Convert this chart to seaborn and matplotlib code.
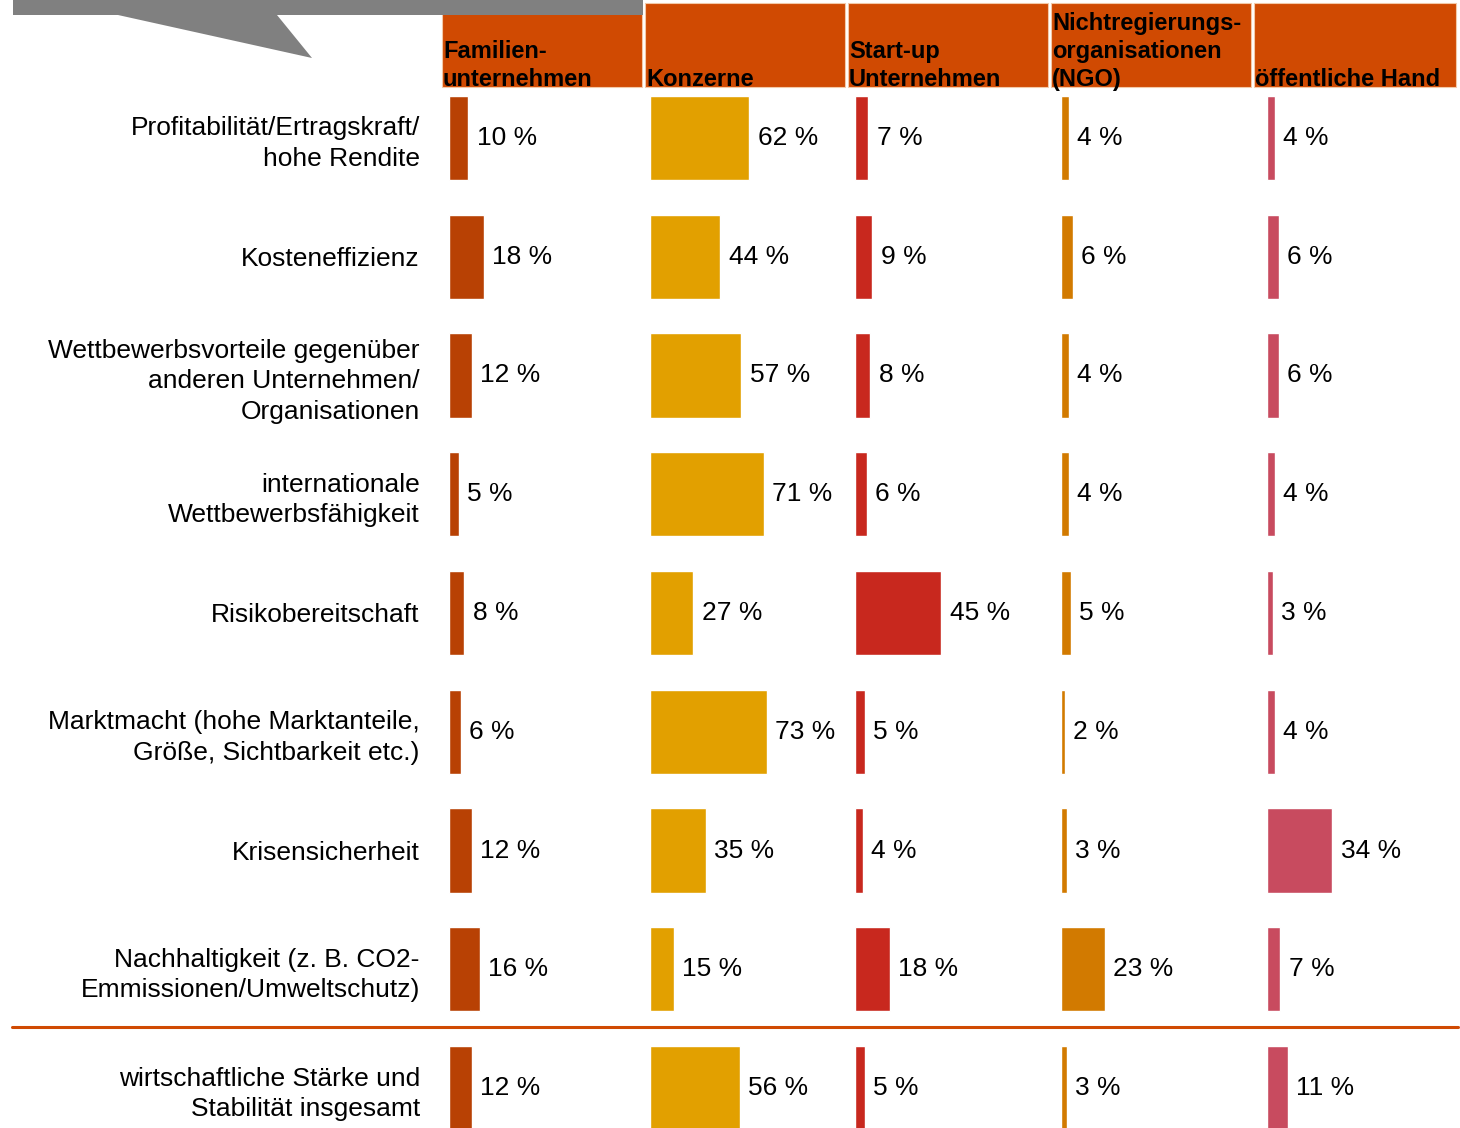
import matplotlib.pyplot as plt
import seaborn as sns
import pandas as pd
from matplotlib.patches import Rectangle, Polygon

categories = [
    "Profitabilität/Ertragskraft/\nhohe Rendite",
    "Kosteneffizienz",
    "Wettbewerbsvorteile gegenüber\nanderen Unternehmen/\nOrganisationen",
    "internationale\nWettbewerbsfähigkeit",
    "Risikobereitschaft",
    "Marktmacht (hohe Marktanteile,\nGröße, Sichtbarkeit etc.)",
    "Krisensicherheit",
    "Nachhaltigkeit (z. B. CO2-\nEmmissionen/Umweltschutz)",
    "wirtschaftliche Stärke und\nStabilität insgesamt",
]
headers = [
    "Familien-\nunternehmen",
    "Konzerne",
    "Start-up\nUnternehmen",
    "Nichtregierungs-\norganisationen\n(NGO)",
    "öffentliche Hand",
]
familien = [10, 18, 12, 5, 8, 6, 12, 16, 12]
konzerne = [62, 44, 57, 71, 27, 73, 35, 15, 56]
startups = [7, 9, 8, 6, 45, 5, 4, 18, 5]
ngo = [4, 6, 4, 4, 5, 2, 3, 23, 3]
oeffentlich = [4, 6, 6, 4, 3, 4, 34, 7, 11]
series = [familien, konzerne, startups, ngo, oeffentlich]
colors = ["#B84104", "#E2A000", "#C8281E", "#D27A00", "#C84B5F"]
header_color = "#D04A02"

W, H = 1460, 1128
sns.set_theme(style="white")
plt.rcParams['font.family'] = ['Liberation Sans', 'DejaVu Sans']
plt.rcParams['text.color'] = 'black'
plt.rcParams['ytick.labelcolor'] = 'black'

fig = plt.figure(figsize=(W / 100, H / 100), dpi=100)

# background layer in pixel coordinates (header boxes, arrow, separator)
bg = fig.add_axes([0, 0, 1, 1])
bg.set_xlim(0, W)
bg.set_ylim(H, 0)
bg.axis('off')

col_left = [442, 645, 848, 1051, 1254]
for i, (x0, txt) in enumerate(zip(col_left, headers)):
    w = 202 if i == 4 else 200
    bg.add_patch(Rectangle((x0, 3), w, 84, facecolor=header_color,
                           edgecolor="#F3C9A8", lw=0.8))
    bg.text(x0 + 1, 91, txt, ha='left', va='bottom', fontsize=17,
            fontweight='bold', color='black', linespacing=1.27)

bg.add_patch(Polygon([(13, 0), (643, 0), (643, 15), (277, 15), (312, 58),
                      (118, 15), (13, 15)], closed=True,
                     facecolor="#808080", edgecolor='none', zorder=5))
bg.plot([12, 1458], [1027, 1027], color=header_color, lw=2.2)

# bar panels
bar_left = [449, 650, 855, 1061, 1267]
px_per_pct = [1.92, 1.6, 1.92, 1.92, 1.92]
row_step = 118.75
top_px = 138 - row_step / 2
bottom_px = top_px + row_step * len(categories)
panel_w = 190

for i, vals in enumerate(series):
    ax = fig.add_axes([bar_left[i] / W, (H - bottom_px) / H,
                       panel_w / W, (bottom_px - top_px) / H])
    ax.patch.set_visible(False)
    df = pd.DataFrame({"kategorie": categories, "wert": vals})
    sns.barplot(data=df, x="wert", y="kategorie", orient='h', color=colors[i],
                saturation=1, width=0.71, ax=ax)
    ax.set_xlim(0, panel_w / px_per_pct[i])
    ax.set_ylim(len(categories) - 0.5, -0.5)
    ax.bar_label(ax.containers[0], labels=[f"{v} %" for v in vals],
                 padding=6, fontsize=19, color='black')
    ax.set_xlabel("")
    ax.set_ylabel("")
    ax.set_xticks([])
    for s in ax.spines.values():
        s.set_visible(False)
    if i == 0:
        ax.tick_params(axis='y', length=0, pad=21, labelsize=19,
                       labelcolor='black')
        for t in ax.get_yticklabels():
            t.set_linespacing(1.35)
    else:
        ax.set_yticks([])

plt.savefig("out.png", dpi=100)
